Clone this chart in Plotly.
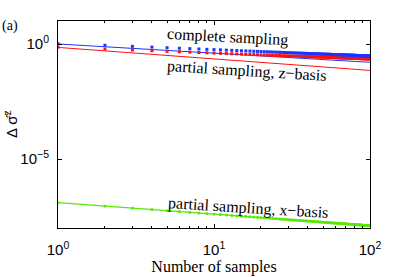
import plotly.graph_objects as go

# ---------------- data ----------------
n_samples = list(range(1, 101))

complete_pts = [1.02, 0.886, 0.792, 0.732, 0.688, 0.655, 0.627, 0.605, 0.586, 0.569,
                0.554, 0.541, 0.529, 0.519, 0.509, 0.500, 0.491, 0.484, 0.477, 0.470,
                0.464, 0.458, 0.452, 0.447, 0.442, 0.437, 0.433, 0.429, 0.424, 0.420,
                0.417, 0.413, 0.410, 0.406, 0.403, 0.400, 0.397, 0.394, 0.391, 0.388,
                0.386, 0.383, 0.381, 0.378, 0.376, 0.374, 0.372, 0.369, 0.367, 0.365,
                0.363, 0.361, 0.359, 0.358, 0.356, 0.354, 0.352, 0.351, 0.349, 0.348,
                0.346, 0.344, 0.343, 0.341, 0.340, 0.339, 0.337, 0.336, 0.334, 0.333,
                0.332, 0.331, 0.329, 0.328, 0.327, 0.326, 0.324, 0.323, 0.322, 0.321,
                0.320, 0.319, 0.318, 0.317, 0.316, 0.315, 0.314, 0.313, 0.312, 0.311,
                0.310, 0.309, 0.308, 0.307, 0.306, 0.305, 0.304, 0.304, 0.303, 0.302]

zbasis_pts = [0.724, 0.607, 0.547, 0.509, 0.481, 0.459, 0.441, 0.426, 0.414, 0.403,
              0.393, 0.384, 0.377, 0.370, 0.363, 0.357, 0.352, 0.347, 0.342, 0.337,
              0.333, 0.329, 0.326, 0.322, 0.319, 0.316, 0.313, 0.310, 0.307, 0.304,
              0.302, 0.299, 0.297, 0.295, 0.293, 0.290, 0.288, 0.287, 0.285, 0.283,
              0.281, 0.279, 0.278, 0.276, 0.274, 0.273, 0.271, 0.270, 0.269, 0.267,
              0.266, 0.265, 0.263, 0.262, 0.261, 0.260, 0.258, 0.257, 0.256, 0.255,
              0.254, 0.253, 0.252, 0.251, 0.250, 0.249, 0.248, 0.247, 0.246, 0.245,
              0.244, 0.243, 0.243, 0.242, 0.241, 0.240, 0.239, 0.238, 0.238, 0.237,
              0.236, 0.235, 0.235, 0.234, 0.233, 0.233, 0.232, 0.231, 0.231, 0.230,
              0.229, 0.229, 0.228, 0.227, 0.227, 0.226, 0.226, 0.225, 0.224, 0.224]

xbasis_pts = [12.6e-8, 8.91e-8, 7.27e-8, 6.30e-8, 5.63e-8, 5.14e-8, 4.76e-8, 4.45e-8, 4.20e-8, 3.98e-8,
              3.80e-8, 3.64e-8, 3.49e-8, 3.37e-8, 3.25e-8, 3.15e-8, 3.06e-8, 2.97e-8, 2.89e-8, 2.82e-8,
              2.75e-8, 2.69e-8, 2.63e-8, 2.57e-8, 2.52e-8, 2.47e-8, 2.42e-8, 2.38e-8, 2.34e-8, 2.30e-8,
              2.26e-8, 2.23e-8, 2.19e-8, 2.16e-8, 2.13e-8, 2.10e-8, 2.07e-8, 2.04e-8, 2.02e-8, 1.99e-8,
              1.97e-8, 1.94e-8, 1.92e-8, 1.90e-8, 1.88e-8, 1.86e-8, 1.84e-8, 1.82e-8, 1.80e-8, 1.78e-8,
              1.76e-8, 1.75e-8, 1.73e-8, 1.71e-8, 1.70e-8, 1.68e-8, 1.67e-8, 1.65e-8, 1.64e-8, 1.63e-8,
              1.61e-8, 1.60e-8, 1.59e-8, 1.58e-8, 1.56e-8, 1.55e-8, 1.54e-8, 1.53e-8, 1.52e-8, 1.51e-8,
              1.50e-8, 1.49e-8, 1.47e-8, 1.46e-8, 1.46e-8, 1.45e-8, 1.44e-8, 1.43e-8, 1.42e-8, 1.41e-8,
              1.40e-8, 1.39e-8, 1.38e-8, 1.37e-8, 1.37e-8, 1.36e-8, 1.35e-8, 1.34e-8, 1.34e-8, 1.33e-8,
              1.32e-8, 1.31e-8, 1.31e-8, 1.30e-8, 1.29e-8, 1.29e-8, 1.28e-8, 1.27e-8, 1.27e-8, 1.26e-8]

theory_n = [1, 100]
complete_theory = [1.0, 0.16]
zbasis_theory = [0.71, 0.071]
xbasis_theory = [1.26e-7, 1.26e-8]

x_tickvals = [1, 10, 100]
x_ticktext = ["10<sup>0</sup>", "10<sup>1</sup>", "10<sup>2</sup>"]
x_minor = [2, 3, 4, 5, 6, 7, 8, 9, 20, 30, 40, 50, 60, 70, 80, 90]
y_tickvals = [1e-5, 1]
y_ticktext = ["10<sup>\u22125</sup>", "10<sup>0</sup>"]

BLUE = "#1a35ff"
RED = "#ff1010"
GREEN = "#55ea00"

fig = go.Figure()
fig.add_trace(go.Scatter(x=theory_n, y=complete_theory, mode="lines",
                         line=dict(color=BLUE, width=1), showlegend=False))
fig.add_trace(go.Scatter(x=theory_n, y=zbasis_theory, mode="lines",
                         line=dict(color=RED, width=1), showlegend=False))
fig.add_trace(go.Scatter(x=theory_n, y=xbasis_theory, mode="lines",
                         line=dict(color=GREEN, width=1.2), showlegend=False))
fig.add_trace(go.Scatter(x=n_samples, y=zbasis_pts, mode="markers",
                         marker=dict(color=RED, size=3, symbol="square", line=dict(width=0)),
                         showlegend=False))
fig.add_trace(go.Scatter(x=n_samples, y=complete_pts, mode="markers",
                         marker=dict(color=BLUE, size=3, symbol="square", line=dict(width=0)),
                         showlegend=False))
fig.add_trace(go.Scatter(x=n_samples, y=xbasis_pts, mode="markers",
                         marker=dict(color=GREEN, size=2.6, symbol="square", line=dict(width=0)),
                         showlegend=False))

tick_font = dict(family="Liberation Sans", size=15, color="black")
serif = "Liberation Serif"

fig.update_layout(
    width=409, height=277,
    margin=dict(l=58, r=39, t=21, b=49, pad=0),
    paper_bgcolor="white", plot_bgcolor="white",
    xaxis=dict(type="log", range=[0, 2], showgrid=False, zeroline=False, automargin=False,
               showline=True, linecolor="black", linewidth=1, mirror="allticks",
               ticks="inside", ticklen=4, tickcolor="black", tickwidth=1,
               tickvals=x_tickvals, ticktext=x_ticktext, tickfont=tick_font,
               ticklabelstandoff=8,
               minor=dict(ticks="inside", ticklen=2, tickcolor="black",
                          tickvals=x_minor, showgrid=False),
               title=dict(text="Number of samples",
                          font=dict(family=serif, size=16, color="black"),
                          standoff=1)),
    yaxis=dict(type="log", range=[-8, 1], showgrid=False, zeroline=False, automargin=False,
               showline=True, linecolor="black", linewidth=1, mirror="allticks",
               ticks="inside", ticklen=4, tickcolor="black", tickwidth=1,
               tickvals=y_tickvals, ticktext=y_ticktext, tickfont=tick_font,
               ticklabelstandoff=5),
)

annots = [
    dict(text="complete sampling", x=0.542, y=0.922, textangle=3),
    dict(text="partial sampling, z\u2212basis", x=0.606, y=0.757, textangle=3.5),
    dict(text="partial sampling, x\u2212basis", x=0.609, y=0.099, textangle=3.5),
]
for a in annots:
    fig.add_annotation(xref="paper", yref="paper", x=a["x"], y=a["y"], text=a["text"],
                       textangle=a["textangle"], showarrow=False,
                       xanchor="center", yanchor="middle",
                       font=dict(family=serif, size=16, color="black"))

fig.add_annotation(xref="paper", yref="paper", x=-0.186, y=0.978, text="(a)",
                   showarrow=False, xanchor="left", yanchor="middle",
                   font=dict(family=serif, size=14, color="black"))
fig.add_annotation(xref="paper", yref="paper", x=-0.152, y=0.5,
                   text="\u0394 \u03c3\u0302<sup>z</sup>", textangle=-90,
                   showarrow=False, xanchor="center", yanchor="middle",
                   font=dict(family="Liberation Sans", size=15, color="black"))

fig.write_html("out.html", config={"displayModeBar": False},
               post_script="document.body.style.margin='0';document.body.style.padding='0';")
